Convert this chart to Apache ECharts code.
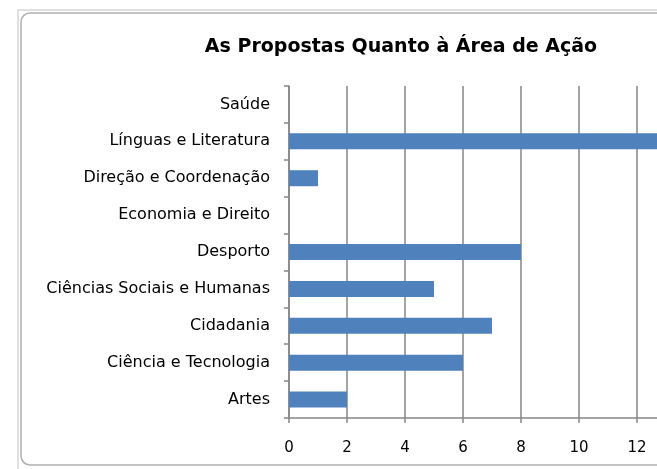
<!DOCTYPE html>
<html>
<head>
<meta charset="utf-8">
<script src="https://cdn.jsdelivr.net/npm/echarts@6/dist/echarts.min.js"></script>
<style>
html,body{margin:0;padding:0;background:#fff;}
#main{width:657px;height:469px;}
</style>
</head>
<body>
<div id="main"></div>
<script>
// categorias (de baixo para cima) e valores
var categories = ['Artes', 'Ciência e Tecnologia', 'Cidadania', 'Ciências Sociais e Humanas', 'Desporto', 'Economia e Direito', 'Direção e Coordenação', 'Línguas e Literatura', 'Saúde'];
var values = [2, 6, 7, 5, 8, 0, 1, 13, 0];
var titleText = 'As Propostas Quanto à Área de Ação';

(function(){
    var myChart = echarts.init(document.getElementById('main'));
    var option = {
        backgroundColor: '#fff',
        animation: false,
        title: {
            text: titleText,
            left: 396,
            top: 33,
            textAlign: 'center',
            textStyle: {
                fontFamily: 'DejaVu Sans',
                fontWeight: 'bold',
                fontSize: 19,
                color: '#000'
            }
        },
        // moldura do gráfico
        graphic: [{
            type: 'rect',
            shape: { x: 18, y: 10, width: 720, height: 470 },
            style: { fill: 'none', stroke: '#e0e0e0', lineWidth: 2 },
            z: -2
        }, {
            type: 'rect',
            shape: { x: 21, y: 13, width: 720, height: 452, r: 9 },
            style: { fill: '#fff', stroke: '#b0b0b0', lineWidth: 1.5 },
            z: -1
        }],
        grid: {
            left: 289,
            top: 86,
            width: 406,
            bottom: 51,
            outerBoundsMode: 'none',
            containLabel: false
        },
        xAxis: {
            type: 'value',
            min: 0,
            max: 14,
            interval: 2,
            axisLine: { show: true, lineStyle: { color: '#868686', width: 1.5 } },
            axisTick: { show: true, length: 5, lineStyle: { color: '#868686', width: 1.5 } },
            axisLabel: {
                margin: 23,
                fontFamily: 'DejaVu Sans',
                fontSize: 15,
                color: '#000'
            },
            splitLine: { show: true, lineStyle: { color: '#868686', width: 1.5 } }
        },
        yAxis: {
            type: 'category',
            data: categories,
            axisLine: { show: true, lineStyle: { color: '#868686', width: 1.5 } },
            axisTick: { show: true, length: 5, lineStyle: { color: '#868686', width: 1.5 } },
            axisLabel: {
                margin: 19,
                fontFamily: 'DejaVu Sans',
                fontSize: 16,
                color: '#000'
            }
        },
        series: [{
            type: 'bar',
            data: values,
            barWidth: 16,
            itemStyle: { color: '#4f81bd' }
        }]
    };
    myChart.setOption(option);
    window.addEventListener('resize', function(){
        myChart.resize();
    });
})();
</script>
</body>
</html>
